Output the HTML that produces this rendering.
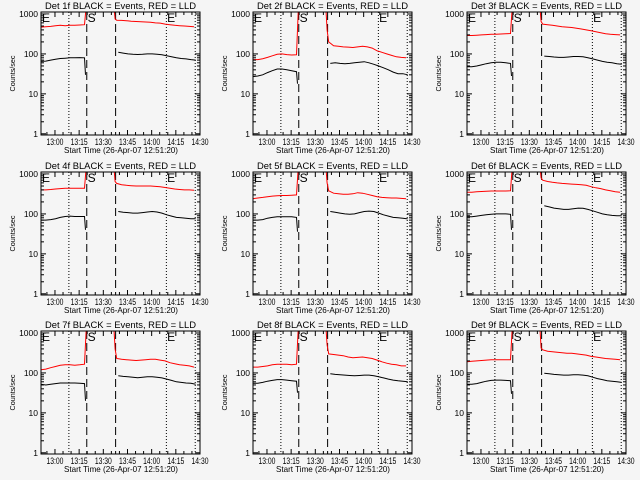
<!DOCTYPE html>
<html><head><meta charset="utf-8"><style>
body{margin:0;background:#f5f5f5;}
svg{display:block;font-family:"Liberation Sans",sans-serif;}
</style></head><body>
<svg id="c" width="640" height="480" viewBox="0 0 640 480"></svg>
<script>
const detNames = ["1f","2f","3f","4f","5f","6f","7f","8f","9f"];
const tRedPre = [0,3,6,9,12,15,18,21,24,27,28.3];
const tRedPost = [45,46,47,50,53,56,59,62,65,68,71,74,77,80,83,86,89,92,95];
const tBlkPre = [0,3,6,9,12,15,18,21,24,27,27.6];
const tBlkPost = [48,51,54,57,60,63,66,69,72,75,78,81,84,87,90,93,96];
const xTickMin = [8.67,23.67,38.67,53.67,68.67,83.67,98.67];
const xTickLabels = ["13:00","13:15","13:30","13:45","14:00","14:15","14:30"];
const yTickVals = [1,10,100,1000];
const yTickLabels = ["1","10","100","1000"];
const dottedLines = [17.3,77.8,95.7];
const dashedLines = [28.4,46.3];
const eventMarks = [["E",0.6],["S",28.9],["E",78.3]];
const redPre = [
 [470,480,490,510,520,510,520,520,530,540,2000],
 [72,72,76,82,90,98,100,96,94,95,2000],
 [290,290,295,300,305,310,310,315,320,325,2000],
 [400,400,410,420,430,440,440,440,440,440,2000],
 [240,250,260,270,280,285,290,290,295,300,2000],
 [350,350,360,365,370,375,375,375,375,380,2000],
 [120,125,135,145,155,160,160,155,160,165,2000],
 [140,140,145,150,160,165,165,165,160,165,2000],
 [190,195,200,205,210,215,215,215,215,215,2000]];
const redPost = [
 [2000,750,700,690,680,660,650,640,630,620,600,590,560,540,520,510,500,490,480],
 [2000,400,200,160,155,150,148,145,150,155,150,140,120,110,100,92,85,82,80],
 [2000,650,560,540,520,500,480,470,460,440,420,400,380,360,340,320,310,305,300],
 [2000,650,580,540,520,510,500,500,500,500,490,480,460,440,420,410,400,400,390],
 [2000,600,380,330,320,310,310,320,340,330,310,290,270,260,255,250,250,245,240],
 [2000,800,700,650,620,600,580,570,560,550,540,520,480,450,430,400,380,360,350],
 [2000,400,230,220,215,210,205,210,215,220,220,210,200,180,170,160,155,150,140],
 [2000,500,300,290,280,270,250,240,245,250,240,230,210,190,175,165,160,150,150],
 [2000,420,380,350,340,330,320,310,310,300,290,280,260,250,240,230,225,220,215]];
const blkPre = [
 [65,66,70,74,77,78,80,80,81,80,30],
 [27,28,30,34,38,42,42,40,38,36,18],
 [48,48,50,53,57,60,62,62,60,58,28],
 [70,70,72,76,82,86,88,86,86,86,40],
 [70,70,72,78,82,85,85,85,85,82,36],
 [85,85,88,92,95,98,100,100,100,98,40],
 [52,50,52,54,56,56,56,56,55,54,20],
 [55,55,58,62,65,68,68,66,64,62,32],
 [52,52,54,58,62,65,66,66,65,64,30]];
const blkPost = [
 [110,105,100,98,97,98,100,100,98,95,90,85,80,77,75,72,70],
 [58,60,58,57,58,60,62,64,60,55,50,45,40,35,32,32,30],
 [88,86,84,82,82,84,86,86,85,80,75,70,65,62,60,57,55],
 [115,110,108,105,105,108,112,115,112,105,95,88,82,80,78,76,76],
 [115,110,105,100,98,100,108,115,118,115,105,95,88,82,80,78,75],
 [160,150,140,135,130,130,135,140,138,130,120,110,100,95,92,90,90],
 [85,82,80,78,76,78,80,80,78,75,70,65,60,58,56,55,52],
 [95,92,90,88,86,85,86,88,88,85,80,75,70,66,64,62,60],
 [98,95,92,90,88,88,90,90,88,85,78,72,68,64,62,60,58]];

const svg = document.getElementById('c');
const NS = "http://www.w3.org/2000/svg";
function mk(tag, attrs, parent){const e=document.createElementNS(NS,tag);for(const k in attrs)e.setAttribute(k,attrs[k]);parent.appendChild(e);return e;}
const colX=[0,212,426], rowY=[0,160,319];
const L=41,R=200,T=12,B=135,TMAX=98.67,LMIN=-0.03,LMAX=3.05;
for(let p=0;p<9;p++){
  const ox=colX[p%3], oy=rowY[Math.floor(p/3)];
  const g=mk('g',{transform:`translate(${ox},${oy})`},svg);
  
  
  const xs=t=>L+t/TMAX*(R-L);
  const ys=v=>B-(Math.log10(v)-LMIN)/(LMAX-LMIN)*(B-T);
  const cid='clip'+p;
  const cp=mk('clipPath',{id:cid},g); mk('rect',{x:L,y:T,width:R-L,height:B-T},cp);
  dottedLines.forEach(t=>{const l=mk('line',{x1:xs(t),x2:xs(t),y1:T,y2:B,stroke:'#000','stroke-width':1,'stroke-dasharray':'1 2'},g);
    
    });
  dashedLines.forEach(t=>{const l=mk('line',{x1:xs(t),x2:xs(t),y1:T,y2:B,stroke:'#000','stroke-width':1,'stroke-dasharray':'8 4'},g);
    
    });
  function series(ts,vs,col,name){
    let d='';ts.forEach((t,i)=>{d+=(i?'L':'M')+xs(t).toFixed(1)+','+ys(vs[i]).toFixed(1);});
    const pth=mk('path',{d:d,fill:'none',stroke:col,'stroke-width':1,'clip-path':`url(#${cid})`},g);
    
    
  }
  series(tRedPre,redPre[p],'#ff0000','lld-series-pre');
  series(tRedPost,redPost[p],'#ff0000','lld-series-post');
  series(tBlkPre,blkPre[p],'#000','events-series-pre');
  series(tBlkPost,blkPost[p],'#000','events-series-post');
  const bx=mk('rect',{x:L,y:T,width:R-L,height:B-T,fill:'none',stroke:'#000','stroke-width':1},g);
  
  
  yTickVals.forEach((v,i)=>{
    const y=ys(v);
    mk('line',{x1:L,x2:L+5,y1:y,y2:y,stroke:'#000'},g);
    mk('line',{x1:R-5,x2:R,y1:y,y2:y,stroke:'#000'},g);
    const tx=mk('text',{x:L-3,y:y+3,'font-size':8.5,'text-anchor':'end'},g);
    tx.textContent=yTickLabels[i];
    
    
    if(v<1000){for(let m=2;m<10;m++){const ym=ys(v*m);
      mk('line',{x1:L,x2:L+3,y1:ym,y2:ym,stroke:'#000'},g);
      mk('line',{x1:R-3,x2:R,y1:ym,y2:ym,stroke:'#000'},g);}}
  });
  xTickMin.forEach((t,i)=>{
    const x=xs(t);
    mk('line',{x1:x,x2:x,y1:B,y2:B-5,stroke:'#000'},g);
    mk('line',{x1:x,x2:x,y1:T,y2:T+5,stroke:'#000'},g);
    for(let m=5;m<15;m+=5){const xm=xs(t+m); if(xm<R){mk('line',{x1:xm,x2:xm,y1:B,y2:B-3,stroke:'#000'},g);mk('line',{x1:xm,x2:xm,y1:T,y2:T+3,stroke:'#000'},g);}}
    const tx=mk('text',{x:x,y:B+10,'font-size':9,'text-anchor':'middle',textLength:17,lengthAdjust:'spacingAndGlyphs'},g);
    tx.textContent=xTickLabels[i];
    
    
  });
  {const t=xs(xTickMin[0]-5);mk('line',{x1:t,x2:t,y1:B,y2:B-3,stroke:'#000'},g);}
  eventMarks.forEach(m=>{const tx=mk('text',{x:xs(m[1]),y:T+10,'font-size':12},g);tx.textContent=m[0];
    
    });
  const ti=mk('text',{x:120.5,y:9,'font-size':9,'text-anchor':'middle',textLength:151,lengthAdjust:'spacingAndGlyphs'},g);
  ti.textContent='Det '+detNames[p]+' BLACK = Events, RED = LLD';
  
  
  const xl=mk('text',{x:121,y:B+18,'font-size':8.5,'text-anchor':'middle',textLength:114,lengthAdjust:'spacingAndGlyphs'},g);
  xl.textContent='Start Time (26-Apr-07 12:51:20)';
  
  
  const yl=mk('text',{x:0,y:0,'font-size':7.5,'text-anchor':'middle',transform:`translate(15,${(T+B)/2}) rotate(-90)`,textLength:36,lengthAdjust:'spacingAndGlyphs'},g);
  yl.textContent='Counts/sec';
  
  
}
</script>
</body></html>
